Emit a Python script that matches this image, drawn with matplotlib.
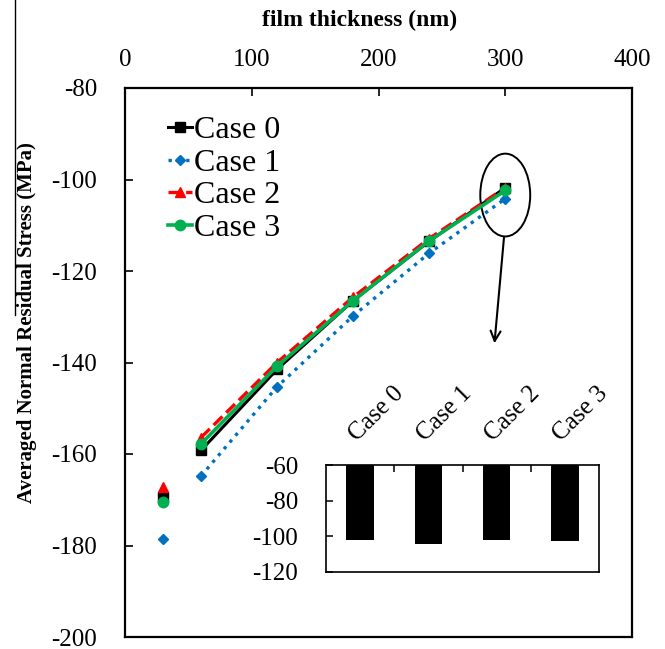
import numpy as np
import matplotlib
matplotlib.use("Agg")
import matplotlib.pyplot as plt
from matplotlib.patches import Ellipse
from matplotlib.lines import Line2D

plt.rcParams['font.family'] = ['Liberation Serif', 'DejaVu Serif']
plt.rcParams['axes.unicode_minus'] = False

# film thickness (nm) and averaged normal residual stress (MPa)
thickness = [60, 120, 180, 240, 300]
case0 = [-159.2, -141.5, -126.5, -113.5, -101.8]
case1 = [-164.8, -145.3, -129.8, -116.1, -104.2]
case2 = [-156.4, -140.0, -125.7, -112.9, -101.8]
case3 = [-157.8, -140.8, -126.5, -113.4, -102.4]

# single points at 30 nm (not joined to the curves)
thin_x = 30
thin_vals = [-169.4, -178.5, -167.3, -170.4]

case_names = ['Case 0', 'Case 1', 'Case 2', 'Case 3']

styles = [
    dict(color='black', ls='-', marker='s', ms=7, lw=2.2),
    dict(color='#0070C0', ls=':', marker='D', ms=5.5, lw=2.4),
    dict(color='#FF0000', ls='--', marker='^', ms=7, lw=2.4),
    dict(color='#00B050', ls='-', marker='o', ms=7.5, lw=2.6),
]

fig = plt.figure(figsize=(6.65, 6.49), dpi=100)
ax = fig.add_axes([125 / 665, 1 - 637 / 649, 507 / 665, 549 / 649])

series = [case0, case1, case2, case3]
for vals, name, st in zip(series, case_names, styles):
    ax.plot(thickness, vals, label=name, **st)
for v, st in zip(thin_vals, styles):
    ax.plot([thin_x], [v], ls='none', marker=st['marker'], ms=st['ms'], color=st['color'])

ax.set_xlim(0, 400)
ax.set_ylim(-200, -80)
ax.set_xticks([0, 100, 200, 300, 400])
ax.set_yticks(np.arange(-200, -79, 20))
ax.xaxis.tick_top()
ax.tick_params(axis='x', direction='in', length=6, width=1.2, pad=12, labelsize=18,
               top=True, bottom=False)
ax.tick_params(axis='y', direction='in', length=6, width=1.2, pad=20, labelsize=18,
               left=True, right=False)
for s in ax.spines.values():
    s.set_linewidth(1.6)

fig.text(360 / 665, 1 - 20 / 649, 'film thickness (nm)', ha='center', va='center',
         fontsize=17, fontweight='bold')
fig.text(27 / 665, 1 - 323 / 649, 'Averaged Normal Residual Stress (MPa)', ha='center',
         va='center', rotation=90, fontsize=15, fontweight='bold')

ax.legend(loc='upper left', bbox_to_anchor=(168 / 665, 1 - 116 / 649),
          bbox_transform=fig.transFigure, frameon=False, fontsize=23,
          handlelength=0.75, handletextpad=0.05, labelspacing=0.1,
          borderpad=0, borderaxespad=0)

# highlight the 300 nm points and point to the inset
ax.add_patch(Ellipse((300, -103.4), 39.4, 18.1, fill=False, lw=1.4, ec='black'))
ax.annotate('', xy=(291.5, -135.8), xytext=(299, -112.7),
            arrowprops=dict(arrowstyle='->', lw=1.5, color='black',
                            mutation_scale=18, shrinkA=0, shrinkB=0))

# inset bar chart of the 300 nm values
ax2 = fig.add_axes([326 / 665, 1 - 572 / 649, 273 / 665, 107 / 649])
last_vals = [v[-1] for v in series]
pos = np.arange(len(case_names))
ax2.bar(pos, last_vals, width=0.4, color='black')
ax2.set_xlim(-0.5, 3.5)
ax2.set_ylim(-120, -60)
ax2.set_yticks([-120, -100, -80, -60])
ax2.xaxis.tick_top()
ax2.set_xticks(pos)
ax2.set_xticklabels(case_names, rotation=45, ha='left', rotation_mode='anchor')
ax2.set_xticks([0.5, 1.5, 2.5], minor=True)
ax2.tick_params(axis='x', which='major', length=0, pad=14, labelsize=18)
ax2.tick_params(axis='x', which='minor', direction='in', length=5, width=1.1,
                top=True, bottom=False)
ax2.tick_params(axis='y', direction='in', length=5, width=1.1, pad=20, labelsize=18)
for s in ax2.spines.values():
    s.set_linewidth(1.2)

fig.add_artist(Line2D([15 / 665, 15 / 665], [1, 1 - 315 / 649], transform=fig.transFigure,
                      color='black', lw=1.0))

fig.savefig('out.png', dpi=100)
